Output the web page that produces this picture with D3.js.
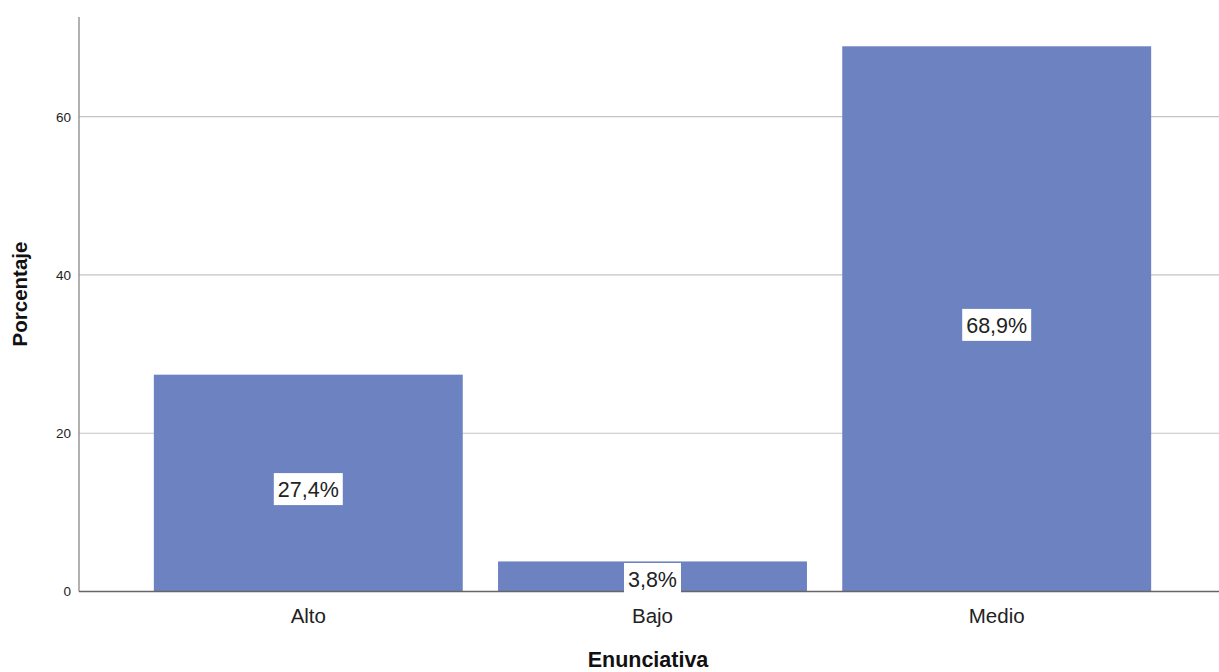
<!DOCTYPE html>
<html><head><meta charset="utf-8">
<script src="https://cdn.jsdelivr.net/npm/d3@7"></script>
<style>body{margin:0;background:#fff}svg{display:block}</style>
</head><body>
<svg id="c" width="1219" height="672"></svg>
<script>
const categories = ["Alto", "Bajo", "Medio"];
const values = [27.4, 3.8, 68.9];
const valueLabels = ["27,4%", "3,8%", "68,9%"];
const yTicks = [0, 20, 40, 60];

(function () {
const svg = d3.select("#c");
const pLeft = 79, pRight = 1219, pTop = 17, pBottom = 591.5;
const font = "'Liberation Sans', Arial, sans-serif";

const y = d3.scaleLinear().domain([0, 72.6]).range([pBottom, pTop]);
const x = d3.scaleBand().domain(categories).range([85, 1220]).paddingInner(0.1025).paddingOuter(0.2);

// gridlines
svg.append("g").selectAll("line").data(yTicks.filter(d => d > 0)).join("line")
  .attr("x1", pLeft).attr("x2", pRight)
  .attr("y1", d => y(d)).attr("y2", d => y(d))
  .attr("stroke", "#c4c4c4").attr("stroke-width", 1.2);

// y axis
const yAxis = d3.axisLeft(y).tickValues(yTicks).tickSize(0).tickPadding(8).tickFormat(d3.format("d"));
const gy = svg.append("g").attr("transform", `translate(${pLeft},0)`).call(yAxis);
gy.select(".domain").remove();
gy.selectAll("text").attr("font-family", font).attr("font-size", 13.5).attr("fill", "#222");

// bars
svg.append("g").selectAll("rect").data(values).join("rect")
  .attr("x", (d, i) => x(categories[i]))
  .attr("width", x.bandwidth())
  .attr("y", d => y(d))
  .attr("height", d => pBottom - y(d))
  .attr("fill", "#6d82c1");

// axis lines
svg.append("line").attr("x1", pLeft).attr("x2", pLeft).attr("y1", pTop).attr("y2", pBottom)
  .attr("stroke", "#888").attr("stroke-width", 1.3);
svg.append("line").attr("x1", pLeft).attr("x2", pRight).attr("y1", pBottom).attr("y2", pBottom)
  .attr("stroke", "#666").attr("stroke-width", 1.3);

// x axis labels
const xAxis = d3.axisBottom(x).tickSize(0).tickPadding(0);
const gx = svg.append("g").attr("transform", `translate(0,${pBottom})`).call(xAxis);
gx.select(".domain").remove();
gx.selectAll("text").attr("dy", null).attr("y", 31).attr("font-family", font).attr("font-size", 20.5).attr("fill", "#222");

// value labels
const lg = svg.append("g");
values.forEach((v, i) => {
  const cx = x(categories[i]) + x.bandwidth() / 2;
  const h = 32;
  let cy = (y(v) + pBottom) / 2 + 6;
  if (cy + h / 2 > pBottom + 1) cy = pBottom + 1 - h / 2 + 2.5;
  const t = lg.append("text").attr("x", cx).attr("y", cy).attr("dy", "0.36em")
    .attr("text-anchor", "middle").attr("font-family", font).attr("font-size", 21.5)
    .attr("fill", "#222").text(valueLabels[i]);
  const w = t.node().getComputedTextLength() + 8;
  lg.insert("rect", "text").attr("x", cx - w / 2).attr("y", cy - h / 2)
    .attr("width", w).attr("height", h).attr("fill", "#fff");
});

// axis titles
svg.append("text").attr("x", 648).attr("y", 667)
  .attr("text-anchor", "middle").attr("font-family", font).attr("font-weight", "bold")
  .attr("font-size", 21.5).attr("fill", "#111").text("Enunciativa");
svg.append("text").attr("transform", `translate(27,294) rotate(-90)`)
  .attr("text-anchor", "middle").attr("font-family", font).attr("font-weight", "bold")
  .attr("font-size", 20.5).attr("fill", "#111").text("Porcentaje");
})();
</script>
</body></html>
